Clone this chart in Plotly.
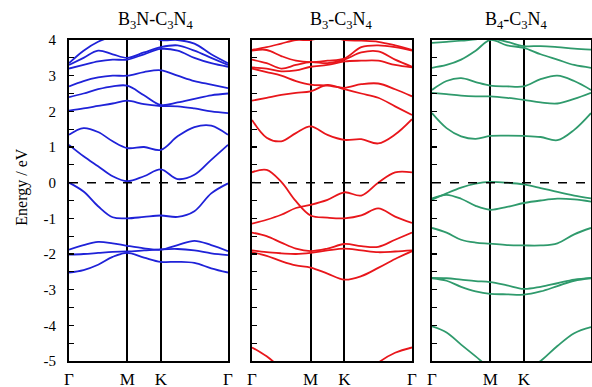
import plotly.graph_objects as go

# k-path Γ-M-K-Γ (units of 2π/a)
K_POINTS = [0.0, 0.1443, 0.2887, 0.4330, 0.5774, 0.7440, 0.9107, 1.0774, 1.2440, 1.4107, 1.5774]
K_TICK_VALS = [0.0, 0.5774, 0.9107, 1.5774]
K_TICK_TEXT = ["Γ", "M", "K", "Γ"]

E_TICK_VALS = [-5, -4, -3, -2, -1, 0, 1, 2, 3, 4]
E_TICK_TEXT = ["-5", "-4", "-3", "-2", "-1", "0", "1", "2", "3", "4"]
E_MINOR_VALS = [-4.5, -3.5, -2.5, -1.5, -0.5, 0.5, 1.5, 2.5, 3.5]

PANEL_TITLES = ["B<sub>3</sub>N-C<sub>3</sub>N<sub>4</sub>",
                "B<sub>3</sub>-C<sub>3</sub>N<sub>4</sub>",
                "B<sub>4</sub>-C<sub>3</sub>N<sub>4</sub>"]
PANEL_COLORS = ["#1f22d8", "#e8161b", "#2f9a6c"]

# Energies (eV) at K_POINTS for each band
BANDS_B3N = [
    [-2.52, -2.45, -2.30, -2.08, -1.97, -2.10, -2.22, -2.22, -2.25, -2.40, -2.52],
    [-2.02, -2.00, -1.97, -1.94, -1.93, -1.90, -1.87, -1.86, -1.90, -1.98, -2.03],
    [-1.88, -1.75, -1.66, -1.70, -1.77, -1.84, -1.88, -1.75, -1.63, -1.75, -1.92],
    [0.00, -0.25, -0.66, -0.97, -1.00, -0.96, -0.92, -0.96, -0.80, -0.30, -0.02],
    [1.06, 0.74, 0.46, 0.18, 0.04, 0.18, 0.37, 0.10, 0.22, 0.64, 1.06],
    [1.34, 1.53, 1.42, 1.16, 0.97, 1.00, 0.92, 1.30, 1.56, 1.60, 1.34],
    [2.02, 2.08, 2.15, 2.22, 2.30, 2.20, 2.15, 2.14, 2.08, 2.00, 1.95],
    [2.40, 2.50, 2.62, 2.70, 2.72, 2.45, 2.18, 2.25, 2.35, 2.45, 2.50],
    [2.70, 2.85, 2.95, 3.00, 3.00, 3.10, 3.15, 3.00, 2.85, 2.75, 2.65],
    [3.20, 3.30, 3.40, 3.45, 3.45, 3.60, 3.75, 3.70, 3.50, 3.35, 3.25],
    [3.30, 3.50, 3.70, 3.60, 3.50, 3.65, 3.80, 3.85, 3.70, 3.50, 3.30],
    [3.35, 3.70, 3.95, 4.10, 4.20, 4.20, 4.00, 4.00, 3.90, 3.60, 3.35],
]

BANDS_B3 = [
    [-4.62, -4.87, -5.20, -5.50, -5.70, -5.80, -5.70, -5.50, -5.05, -4.77, -4.62],
    [-1.95, -2.05, -2.20, -2.32, -2.38, -2.55, -2.72, -2.62, -2.39, -2.14, -1.92],
    [-1.90, -1.95, -1.98, -2.00, -1.97, -1.90, -1.85, -1.90, -1.95, -1.93, -1.90],
    [-1.40, -1.50, -1.68, -1.85, -1.92, -1.85, -1.72, -1.78, -1.80, -1.60, -1.40],
    [-1.15, -1.04, -0.90, -0.71, -0.62, -0.48, -0.27, -0.36, 0.00, 0.29, 0.29],
    [0.29, 0.36, 0.02, -0.52, -0.92, -0.98, -1.00, -0.92, -0.72, -0.95, -1.13],
    [1.76, 1.26, 1.16, 1.39, 1.58, 1.34, 1.20, 1.22, 1.10, 1.35, 1.78],
    [2.30, 2.38, 2.46, 2.52, 2.56, 2.74, 2.62, 2.50, 2.38, 2.14, 1.90],
    [3.20, 3.10, 3.00, 2.85, 2.75, 2.72, 2.66, 2.76, 2.78, 2.62, 2.42],
    [3.23, 3.20, 3.12, 3.15, 3.25, 3.30, 3.40, 3.42, 3.42, 3.30, 3.23],
    [3.45, 3.35, 3.20, 3.30, 3.38, 3.35, 3.45, 3.65, 3.68, 3.45, 3.25],
    [3.70, 3.72, 3.55, 3.42, 3.38, 3.42, 3.48, 3.80, 3.85, 3.80, 3.70],
    [3.72, 3.80, 3.90, 4.00, 4.00, 4.10, 4.00, 3.98, 3.95, 3.85, 3.72],
]

BANDS_B4 = [
    [-4.03, -4.20, -4.54, -4.87, -5.20, -5.40, -5.30, -5.00, -4.58, -4.22, -4.05],
    [-2.68, -2.75, -2.92, -3.05, -3.12, -3.13, -3.14, -3.05, -2.90, -2.75, -2.68],
    [-2.67, -2.68, -2.72, -2.76, -2.79, -2.88, -2.98, -2.92, -2.82, -2.72, -2.67],
    [-1.27, -1.40, -1.60, -1.68, -1.71, -1.75, -1.76, -1.76, -1.70, -1.45, -1.27],
    [-0.44, -0.34, -0.45, -0.65, -0.76, -0.68, -0.57, -0.50, -0.45, -0.47, -0.53],
    [-0.48, -0.30, -0.14, -0.03, 0.02, 0.00, -0.05, -0.15, -0.26, -0.36, -0.44],
    [1.95, 1.53, 1.30, 1.23, 1.31, 1.32, 1.31, 1.28, 1.19, 1.48, 1.95],
    [2.52, 2.48, 2.44, 2.42, 2.42, 2.38, 2.32, 2.25, 2.22, 2.35, 2.52],
    [2.60, 2.85, 2.93, 2.82, 2.72, 2.70, 2.70, 2.90, 3.00, 2.85, 2.60],
    [3.22, 3.30, 3.45, 3.70, 4.00, 3.85, 3.78, 3.60, 3.45, 3.30, 3.22],
    [3.92, 3.95, 3.98, 4.02, 4.05, 3.95, 3.83, 3.83, 3.80, 3.76, 3.73],
]

ALL_BANDS = [BANDS_B3N, BANDS_B3, BANDS_B4]

W, H = 592, 387
DOMAINS = [[69 / W, 228 / W], [252 / W, 412 / W], [432 / W, 591 / W]]
TITLE_X = [156 / W, 341 / W, 516 / W]
FONT = "Liberation Serif, Times New Roman, serif"

fig = go.Figure()
for i, bands in enumerate(ALL_BANDS):
    xa = "x" if i == 0 else f"x{i+1}"
    ya = "y" if i == 0 else f"y{i+1}"
    for b in bands:
        fig.add_trace(go.Scatter(x=K_POINTS, y=b, xaxis=xa, yaxis=ya, mode="lines",
                                 line=dict(color=PANEL_COLORS[i], width=1.8, shape="spline", smoothing=1.0),
                                 showlegend=False, hoverinfo="skip"))

layout = dict(width=W, height=H, margin=dict(l=0, r=0, t=40, b=26),
              paper_bgcolor="white", plot_bgcolor="white",
              font=dict(family=FONT, color="black", size=15), showlegend=False)

for i in range(3):
    sx = "" if i == 0 else str(i + 1)
    layout["xaxis" + sx] = dict(domain=DOMAINS[i], range=[K_POINTS[0], K_POINTS[-1]], anchor="y" + sx,
                                showline=True, mirror=True, linecolor="black", linewidth=2,
                                showgrid=True, gridcolor="black", gridwidth=2, zeroline=False,
                                tickmode="array", tickvals=K_TICK_VALS, ticktext=K_TICK_TEXT,
                                ticks="", tickfont=dict(family=FONT, size=17), ticklabelstandoff=2,
                                automargin=False, fixedrange=True)
    layout["yaxis" + sx] = dict(domain=[0, 1], range=[-5, 4], anchor="x" + sx,
                                showline=True, mirror=True, linecolor="black", linewidth=2,
                                showgrid=False, zeroline=False,
                                tickmode="array", tickvals=E_TICK_VALS, ticktext=E_TICK_TEXT,
                                ticks="inside", ticklen=5, tickwidth=1.3, tickcolor="black",
                                minor=dict(tickmode="array", tickvals=E_MINOR_VALS, ticks="inside",
                                           ticklen=5, tickwidth=1.3, tickcolor="black", showgrid=False),
                                showticklabels=(i == 0), tickfont=dict(family=FONT, size=15),
                                ticklabelstandoff=8, automargin=False, fixedrange=True)

fig.update_layout(**layout)

for i in range(3):
    sx = "" if i == 0 else str(i + 1)
    fig.add_shape(type="line", xref=("x" + sx + " domain"), yref=("y" + sx), x0=0, x1=1, y0=0, y1=0,
                  line=dict(color="black", width=1.5, dash="dash"))
    fig.add_annotation(text=PANEL_TITLES[i], xref="paper", yref="paper",
                       x=TITLE_X[i], xanchor="center", y=1, yanchor="bottom", yshift=6,
                       showarrow=False, font=dict(family=FONT, size=18, color="black"))

fig.add_annotation(text="Energy / eV", xref="paper", yref="paper", x=22 / W, xanchor="center",
                   y=0.54, yanchor="middle",
                   textangle=-90, showarrow=False, font=dict(family=FONT, size=16, color="black"))

fig.write_html("out.html", config={"displayModeBar": False, "staticPlot": True},
               post_script="document.body.style.margin='0px';document.body.style.overflow='hidden';")
